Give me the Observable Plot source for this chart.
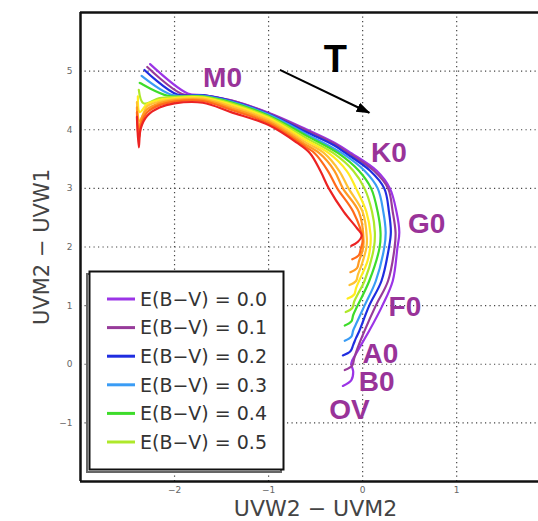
<!DOCTYPE html>
<html><head><meta charset="utf-8">
<script src="https://cdn.jsdelivr.net/npm/d3@7"></script>
<script src="https://cdn.jsdelivr.net/npm/@observablehq/plot@0.6"></script>
<style>body{margin:0;background:#fff} svg{display:block}</style>
</head><body><div id="chart"></div>
<script>
// ---- data ----
const ebvValues = ["0.0","0.1","0.2","0.3","0.4","0.5","0.6","0.7","0.8","0.9","1.0"];
const ebvColors = ["#9b34e6","#973b9a","#1f2de0","#3a9cf5","#3ddc2a","#aee82a","#ffec1f","#ffc233","#ff9a22","#ff6a1a","#ec2323"];
const legendCount = 6;

const track00 = [[-0.21,-0.37],[-0.12,-0.27],[-0.10,-0.13],[-0.12,0.02],[-0.07,0.18],[0.07,0.57],[0.21,1.00],[0.32,1.42],[0.37,1.99],[0.39,2.25],[0.36,2.60],[0.29,3.00],[0.15,3.30],[-0.12,3.60],[-0.30,3.78],[-0.60,4.01],[-1.00,4.29],[-1.40,4.50],[-1.70,4.59],[-1.86,4.62],[-2.26,5.12]];
const track01 = [[-0.19,-0.10],[-0.11,-0.02],[-0.09,0.10],[-0.06,0.25],[0.02,0.57],[0.14,1.00],[0.27,1.42],[0.34,1.99],[0.35,2.25],[0.32,2.60],[0.27,3.00],[0.12,3.30],[-0.15,3.60],[-0.30,3.76],[-0.60,3.99],[-1.00,4.28],[-1.40,4.50],[-1.70,4.59],[-1.92,4.61],[-2.29,5.07]];
const track02 = [[-0.21,0.15],[-0.13,0.22],[-0.10,0.33],[-0.07,0.45],[-0.035,0.57],[0.07,1.00],[0.20,1.42],[0.28,1.99],[0.30,2.25],[0.28,2.60],[0.23,3.00],[0.08,3.30],[-0.18,3.60],[-0.30,3.73],[-0.60,3.96],[-1.00,4.27],[-1.40,4.49],[-1.70,4.59],[-1.97,4.60],[-2.32,5.02]];
const track03 = [[-0.19,0.40],[-0.12,0.47],[-0.10,0.58],[-0.06,0.72],[0.02,1.00],[0.14,1.42],[0.23,1.99],[0.245,2.25],[0.22,2.60],[0.16,3.00],[0.02,3.30],[-0.22,3.60],[-0.60,3.93],[-1.00,4.26],[-1.40,4.48],[-1.70,4.58],[-2.02,4.59],[-2.35,4.92]];
const track04 = [[-0.19,0.66],[-0.12,0.73],[-0.10,0.84],[-0.06,0.98],[0.07,1.42],[0.18,1.99],[0.19,2.25],[0.16,2.60],[0.09,3.00],[-0.04,3.30],[-0.26,3.60],[-0.60,3.90],[-1.00,4.24],[-1.40,4.47],[-1.70,4.57],[-2.07,4.58],[-2.37,4.80]];
const track05 = [[-0.18,0.89],[-0.11,0.96],[-0.09,1.07],[-0.05,1.20],[0.02,1.42],[0.12,1.99],[0.13,2.25],[0.10,2.60],[0.02,3.00],[-0.10,3.30],[-0.31,3.60],[-0.60,3.86],[-1.00,4.22],[-1.40,4.45],[-1.70,4.56],[-2.00,4.56],[-2.16,4.54],[-2.33,4.45],[-2.38,4.68]];
const track06 = [[-0.16,1.12],[-0.09,1.19],[-0.07,1.30],[-0.03,1.45],[0.05,1.75],[0.08,1.99],[0.085,2.20],[0.04,2.60],[-0.07,3.00],[-0.17,3.30],[-0.36,3.60],[-0.60,3.82],[-1.00,4.20],[-1.40,4.43],[-1.70,4.55],[-2.00,4.54],[-2.16,4.51],[-2.29,4.44],[-2.37,4.30],[-2.39,4.57]];
const track07 = [[-0.14,1.35],[-0.07,1.42],[-0.05,1.53],[-0.01,1.70],[0.04,1.99],[0.045,2.15],[0.00,2.60],[-0.15,3.00],[-0.25,3.30],[-0.41,3.60],[-0.60,3.78],[-1.00,4.17],[-1.40,4.40],[-1.70,4.53],[-2.00,4.52],[-2.16,4.48],[-2.29,4.40],[-2.37,4.15],[-2.40,4.47]];
const track08 = [[-0.13,1.57],[-0.06,1.64],[-0.04,1.75],[0.00,1.95],[0.01,2.10],[-0.04,2.60],[-0.21,3.00],[-0.30,3.30],[-0.46,3.60],[-0.60,3.74],[-1.00,4.14],[-1.40,4.37],[-1.70,4.51],[-2.00,4.50],[-2.16,4.45],[-2.29,4.35],[-2.35,4.20],[-2.38,4.00],[-2.40,4.38]];
const track09 = [[-0.11,1.79],[-0.04,1.86],[-0.02,1.97],[0.00,2.12],[-0.10,2.60],[-0.27,3.00],[-0.37,3.30],[-0.51,3.60],[-0.60,3.70],[-1.00,4.11],[-1.40,4.34],[-1.70,4.49],[-2.00,4.48],[-2.16,4.42],[-2.29,4.30],[-2.35,4.12],[-2.38,3.85],[-2.40,4.30]];
const track10 = [[-0.12,2.02],[-0.05,2.09],[-0.01,2.20],[-0.06,2.32],[-0.20,2.60],[-0.36,3.00],[-0.45,3.30],[-0.56,3.60],[-0.70,3.78],[-1.00,4.08],[-1.40,4.30],[-1.70,4.46],[-2.00,4.45],[-2.16,4.38],[-2.29,4.24],[-2.36,4.02],[-2.38,3.70],[-2.40,4.22]];
const tracks = [track00,track01,track02,track03,track04,track05,track06,track07,track08,track09,track10];

const typeLabels = ["OV","B0","A0","F0","G0","K0","M0"];
const typeX = [-0.14, 0.15, 0.19, 0.45, 0.68, 0.28, -1.49];
const typeY = [-0.78, -0.31, 0.18, 0.97, 2.40, 3.60, 4.89];

const arrowT = [{x1:-0.88, y1:5.02, x2:0.07, y2:4.29}];
const tLabel = [{x:-0.29, y:5.19, text:"T"}];

const xTicks = [-2,-1,0,1];
const yTicks = [-1,0,1,2,3,4,5];
const xDomain = [-3, 1.87];
const yDomain = [-2, 6];
const xLabel = "UVW2 \u2212 UVM2";
const yLabel = "UVM2 \u2212 UVW1";

// ---- build ----
const rows = tracks.flatMap((t,k) => t.map(([x,y]) => ({x, y, ebv: ebvValues[k]})));

function filledArrow(color, context) {
  const doc = (context && context.document) || document;
  const m = doc.createElementNS("http://www.w3.org/2000/svg","marker");
  m.setAttribute("viewBox","0 -5 10 10");
  m.setAttribute("refX","9");
  m.setAttribute("refY","0");
  m.setAttribute("markerWidth","7");
  m.setAttribute("markerHeight","7");
  m.setAttribute("orient","auto");
  const p = doc.createElementNS("http://www.w3.org/2000/svg","path");
  p.setAttribute("d","M0,-3.6L10,0L0,3.6Z");
  p.setAttribute("fill", color);
  p.setAttribute("stroke","none");
  m.appendChild(p);
  return m;
}

const grid = {stroke:"#444", strokeWidth:1.2, strokeDasharray:"1.2,3.3"};
const intFmt = d3.format("d");

const plot = Plot.plot({
  width: 538, height: 521,
  marginLeft: 80, marginRight: 0, marginTop: 12, marginBottom: 40,
  style: {fontFamily: "DejaVu Sans", fontSize: "9px", color: "#666", background: "#fff"},
  x: {domain: xDomain, ticks: xTicks, tickFormat: intFmt, tickSize: 0, tickPadding: 5, label: null},
  y: {domain: yDomain, ticks: yTicks, tickFormat: intFmt, tickSize: 0, tickPadding: 8, label: null},
  color: {domain: ebvValues, range: ebvColors},
  marks: [
    Plot.ruleX(xTicks, grid),
    Plot.ruleY(yTicks, grid),
    Plot.line(rows, {x:"x", y:"y", z:"ebv", stroke:"ebv", strokeWidth:2.2, curve:"catmull-rom"}),
    Plot.text(typeLabels, {x:(d,i)=>typeX[i], y:(d,i)=>typeY[i], text:d=>d, fill:"#993399",
      fontSize:28, fontWeight:"bold", fontFamily:"Liberation Sans"}),
    Plot.text(tLabel, {x:"x", y:"y", text:"text", fill:"#000", fontSize:38, fontWeight:"bold", fontFamily:"Liberation Sans"}),
    Plot.link(arrowT, {x1:"x1", y1:"y1", x2:"x2", y2:"y2", stroke:"#000", strokeWidth:2, markerEnd: filledArrow}),
    Plot.ruleX([xDomain[0]], {stroke:"#111", strokeWidth:2.5}),
    Plot.ruleY([yDomain[0], yDomain[1]], {stroke:"#111", strokeWidth:2.5}),
    Plot.text([xLabel], {text:d=>d, frameAnchor:"bottom", textAnchor:"middle", lineAnchor:"middle",
      dx:6, dy:27, fontSize:22, fill:"#444", fontFamily:"DejaVu Sans"}),
    Plot.text([yLabel], {text:d=>d, frameAnchor:"left", textAnchor:"middle", lineAnchor:"middle",
      rotate:-90, dx:-38, fontSize:21, fill:"#444", fontFamily:"DejaVu Sans"})
  ]
});

// legend inside the axes (matplotlib style with shadow)
const svg = d3.select(plot);
const lg = svg.append("g").attr("text-anchor","start");
lg.append("rect").attr("x",87).attr("y",274).attr("width",194).attr("height",198)
  .attr("fill","none").attr("stroke","#666").attr("stroke-width",2);
lg.append("rect").attr("x",89.5).attr("y",271.5).attr("width",194).attr("height",198)
  .attr("fill","#fff").attr("stroke","#111").attr("stroke-width",2);
ebvValues.slice(0, legendCount).forEach((v, i) => {
  const cy = 299 + i * 28.6;
  lg.append("line").attr("x1",107).attr("x2",135).attr("y1",cy).attr("y2",cy)
    .attr("stroke", ebvColors[i]).attr("stroke-width",3);
  lg.append("text").attr("x",140).attr("y",cy).attr("dy","0.36em")
    .attr("font-family","DejaVu Sans").attr("font-size",19).attr("fill","#333")
    .text("E(B\u2212V) = " + v);
});

document.getElementById("chart").appendChild(plot);
</script>
</body></html>
